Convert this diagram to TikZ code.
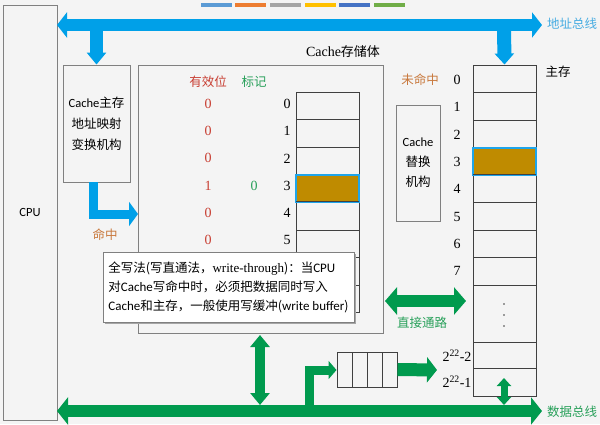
\documentclass[tikz,border=0pt]{standalone}
\usepackage{fontspec}
\setmainfont{Liberation Serif}
\newfontfamily\cjk{Noto Sans CJK SC}
\newfontfamily\lat{Carlito}
\usetikzlibrary{arrows.meta,shadows}
\definecolor{bgc}{RGB}{244,244,244}
\definecolor{busblue}{RGB}{0,160,232}
\definecolor{busgreen}{RGB}{0,154,78}
\definecolor{txtblue}{RGB}{70,172,226}
\definecolor{txtgreen}{RGB}{40,160,90}
\definecolor{txtred}{RGB}{200,62,50}
\definecolor{txtorange}{RGB}{200,120,60}
\definecolor{gold}{RGB}{191,139,0}
\definecolor{hlcyan}{RGB}{30,165,235}
\definecolor{boxgray}{RGB}{128,128,128}
\definecolor{cellgray}{RGB}{64,64,64}
\definecolor{barA}{RGB}{91,155,213}
\definecolor{barB}{RGB}{237,125,49}
\definecolor{barC}{RGB}{165,165,165}
\definecolor{barD}{RGB}{255,192,0}
\definecolor{barE}{RGB}{68,114,196}
\definecolor{barF}{RGB}{112,173,71}
\begin{document}
\begin{tikzpicture}[x=1pt,y=-1pt,
  box/.style={draw=boxgray,line width=0.9pt,inner sep=0pt},
  cell/.style={draw=cellgray,line width=1pt,inner sep=0pt,minimum width=63pt},
  zh/.style={font=\cjk\fontsize{12.5}{14}\selectfont},
  num/.style={font=\fontsize{14}{16}\selectfont},
  bluearrow/.style={draw=busblue,line join=miter},
  greenarrow/.style={draw=busgreen,line join=miter},
]
\fill[bgc] (0,0) rectangle (600,424);
\useasboundingbox (0,0) rectangle (600,424);
% top colour bars
\fill[barA] (201,3) rectangle (232,7);
\fill[barB] (235,3) rectangle (266,7);
\fill[barC] (270,3) rectangle (301,7);
\fill[barD] (305,3) rectangle (336,7);
\fill[barE] (339,3) rectangle (370,7);
\fill[barF] (374,3) rectangle (405,7);

% boxes
\node[box,minimum width=54pt,minimum height=415pt,font=\lat\fontsize{12.5}{14}\selectfont] (cpu) at (30,212.5) {CPU};
\node[box,minimum width=67pt,minimum height=117pt,align=center,font=\cjk\fontsize{12.5}{21}\selectfont] (map) at (96.5,123.5) {{\lat Cache}主存\\地址映射\\变换机构};
\node[box,minimum width=245pt,minimum height=268pt] (store) at (260.5,199) {};
\node[font=\fontsize{14}{16}\selectfont] (storelbl) at (343,52) {Cache{\cjk\fontsize{13}{16}\selectfont 存储体}};
\node[box,minimum width=44pt,minimum height=116pt,align=center,font=\cjk\fontsize{12.5}{20}\selectfont] (repl) at (418,163) {{\lat Cache}\\替换\\机构};

% cache store headers and rows
\node[zh,text=txtred] (hv) at (208,82) {有效位};
\node[zh,text=txtgreen] (ht) at (254,82) {标记};
\foreach \i/\v in {0/0,1/0,2/0,3/1,4/0,5/0}{
  \node[num,text=txtred] (v\i) at (208,{104+27.2*\i}) {\v};
  \node[num] (r\i) at (287,{104+27.2*\i}) {\i};
}
\node[num,text=txtgreen] (t3) at (254,{104+27.2*3}) {0};
\foreach \i in {0,1,2,4,5,6,7}{
  \node[cell,minimum height=27.6pt] (c\i) at (327.5,{105.8+27.6*\i}) {};
}
\node[cell,minimum height=27.6pt,fill=gold,draw=hlcyan,line width=2pt] (c3) at (327.5,{105.8+27.6*3}) {};
\draw[cellgray,line width=1pt] ([xshift=1pt,yshift=1.5pt]c3.south west) -- ([xshift=-1pt,yshift=1.5pt]c3.south east);

% main memory
\node[zh] (memlbl) at (558,72) {主存};
\node[zh,text=txtorange] (miss) at (420,80) {未命中};
\foreach \i in {0,1,2,4,5,6,7}{
  \node[cell,minimum height=27.5pt] (m\i) at (504.5,{78.75+27.5*\i}) {};
}
\node[cell,minimum height=27.5pt,fill=gold,draw=hlcyan,line width=2pt] (m3) at (504.5,{78.75+27.5*3}) {};
\draw[cellgray,line width=1pt] ([xshift=1pt,yshift=1.5pt]m3.south west) -- ([xshift=-1pt,yshift=1.5pt]m3.south east);
\foreach \i in {0,...,7}{
  \node[num] (ml\i) at (457,{80+27.3*\i}) {\i};
}
\node[cell,minimum height=57pt] (mgap) at (504.5,313.5) {};
\node[cell,minimum height=26.5pt] (mA) at (504.5,355.25) {};
\node[cell,minimum height=27.5pt] (mB) at (504.5,382.25) {};
\node[num] (mlA) at (457,356) {2\textsuperscript{22}-2};
\node[num] (mlB) at (457,382) {2\textsuperscript{22}-1};
\foreach \y in {304,315,326}{\fill[cellgray] (504,\y) circle (0.8pt);}

% write buffer
\foreach \i in {0,...,3}{
  \node[cell,minimum width=15pt,minimum height=35pt] (b\i) at ({344.5+15*\i},369.5) {};
}

% coordinates
\coordinate (abL) at (57,25);
\coordinate (abR) at (542,25);
\coordinate (abM) at (96.5,25);
\coordinate (abN) at (504,25);
\coordinate (hitS) at (93,182);
\coordinate (hitE) at (138,214);
\coordinate (dbL) at (57,411);
\coordinate (dbR) at (542,411);
\coordinate (dbS) at (260,405);
\coordinate (stS) at (260,335);
\coordinate (dpL) at (385,301);
\coordinate (dpR) at (466,301);
\coordinate (wbS) at (309,405);
\coordinate (wbE) at (336.5,370);
\coordinate (bmE) at (437,370);
\coordinate (mvT) at (504,378);
\coordinate (mvB) at (504,405);

% address bus (blue)
\draw[bluearrow,line width=12pt,{Triangle[width=25pt,length=10pt]}-{Triangle[width=25pt,length=10pt]}] (abL) -- (abR);
\draw[bluearrow,line width=13pt,-{Triangle[width=19pt,length=12pt]}] (abM) -- (map.north);
\draw[bluearrow,line width=14pt,-{Triangle[width=19pt,length=11pt]}] (abN) -- (m0.north);
\draw[bluearrow,line width=9pt,-{Triangle[width=24pt,length=9pt]}] (hitS) |- (hitE);
\node[zh,text=txtblue] (ablbl) at (572,24) {地址总线};
\node[zh,text=txtorange] (hit) at (105,235) {命中};

% data bus (green)
\draw[greenarrow,line width=12pt,{Triangle[width=27pt,length=11pt]}-{Triangle[width=27pt,length=11pt]}] (dbL) -- (dbR);
\draw[greenarrow,line width=10pt,{Triangle[width=19pt,length=12pt]}-{Triangle[width=19pt,length=12pt]}] (stS) -- (dbS);
\draw[greenarrow,line width=12pt,{Triangle[width=27pt,length=12pt]}-{Triangle[width=27pt,length=12pt]}] (dpL) -- (dpR);
\draw[greenarrow,line width=9pt,-{Triangle[width=18pt,length=8pt]}] (wbS) |- (wbE);
\draw[greenarrow,line width=13pt,-{Triangle[width=25pt,length=10pt]}] (b3.east) -- (bmE);
\draw[greenarrow,line width=7pt,{Triangle[width=14pt,length=8pt]}-{Triangle[width=14pt,length=8pt]}] (mvT) -- (mvB);
\node[zh,text=txtgreen] (dplbl) at (422,323) {直接通路};
\node[zh,text=txtgreen] (dblbl) at (572,412) {数据总线};

% callout
\node[draw=boxgray,line width=0.9pt,fill=white,minimum width=251pt,minimum height=70pt,
  drop shadow={shadow xshift=2pt,shadow yshift=-2pt,fill=black!35,opacity=1},
  align=left,inner sep=0pt,font=\cjk\fontsize{12.5}{19}\selectfont] (note) at (228.5,287)
  {全写法(写直通法，{\rmfamily\fontsize{13}{19}\selectfont write-through})：当{\lat\fontsize{13}{19}\selectfont CPU}\\
   对{\lat\fontsize{13}{19}\selectfont Cache}写命中时，必须把数据同时写入\\
   {\lat\fontsize{13}{19}\selectfont Cache}和主存，一般使用写缓冲({\lat\fontsize{13}{19}\selectfont write buffer})};
\end{tikzpicture}
\end{document}
